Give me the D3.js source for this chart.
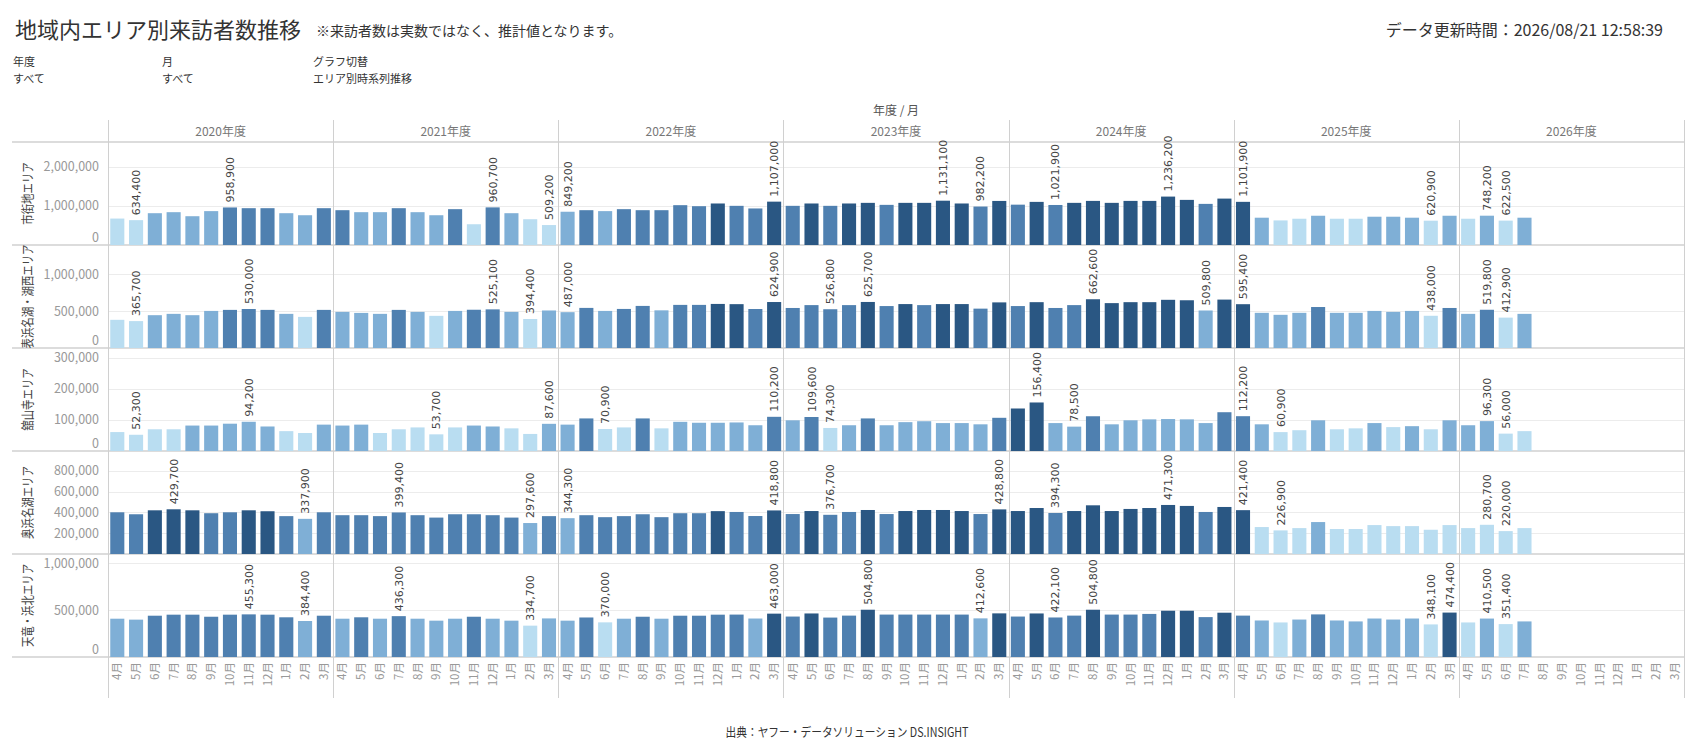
<!DOCTYPE html>
<html lang="ja">
<head>
<meta charset="utf-8">
<title>地域内エリア別来訪者数推移</title>
<script src="https://cdn.jsdelivr.net/npm/d3@7"></script>
<style>
  html, body { margin: 0; padding: 0; background: #fff; }
  svg { display: block; font-family: "Noto Sans CJK JP", "Noto Sans", sans-serif; }
</style>
</head>
<body>
<svg id="chart" width="1696" height="754"></svg>
<script>
// --- data (estimated visitor counts, fiscal year Apr-Mar) ---
const YEARS = ['2020年度', '2021年度', '2022年度', '2023年度', '2024年度', '2025年度', '2026年度'];
const MONTHS = ['4月', '5月', '6月', '7月', '8月', '9月', '10月', '11月', '12月', '1月', '2月', '3月'];
const AREAS = ['市街地エリア', '表浜名湖・湖西エリア', '舘山寺エリア', '奥浜名湖エリア', '天竜・浜北エリア'];

const shigaichi = [
  675000, 634400, 812000, 838000, 735000, 865000, 958900, 940000, 940000, 812000, 760000, 940000,
  889000, 838000, 838000, 940000, 838000, 760000, 915000, 530000, 960700, 812000, 658000, 509200,
  849200, 889000, 865000, 915000, 889000, 889000, 1017000, 991000, 1060000, 1000000, 933000, 1107000,
  1000000, 1060000, 1000000, 1060000, 1076000, 1025000, 1076000, 1076000, 1131100, 1060000, 982200, 1125000,
  1030000, 1101000, 1021900, 1076000, 1126000, 1076000, 1126000, 1126000, 1236200, 1152000, 1050000, 1185000,
  1101900, 697000, 628000, 671000, 747000, 671000, 671000, 722000, 722000, 697000, 620900, 747000,
  671000, 748200, 622500, 697000, null, null, null, null, null, null, null, null
];
const omotehamanako = [
  383000, 365700, 446000, 464000, 446000, 504000, 518000, 530000, 518000, 464000, 423000, 518000,
  491000, 477000, 464000, 518000, 491000, 437000, 504000, 520000, 525100, 491000, 394400, 510000,
  487000, 545000, 504000, 531000, 572000, 512000, 586000, 586000, 599000, 596000, 530000, 624900,
  544000, 583000, 526800, 583000, 625700, 570000, 597000, 583000, 597000, 597000, 535000, 620000,
  570000, 623000, 544000, 583000, 662600, 610000, 623000, 623000, 655000, 649000, 509800, 658000,
  595400, 478000, 451000, 478000, 557000, 478000, 478000, 504000, 491000, 504000, 438000, 544000,
  464000, 519800, 412900, 464000, null, null, null, null, null, null, null, null
];
const kanzanji = [
  61000, 52300, 70000, 70000, 82000, 82000, 88000, 94200, 79000, 64000, 58000, 85000,
  82000, 85000, 58000, 70000, 76000, 53700, 76000, 82000, 79000, 73000, 55000, 87600,
  85000, 105000, 70900, 76000, 105000, 73000, 94000, 91000, 91000, 92000, 83000, 110200,
  99000, 109600, 74300, 83000, 105000, 83000, 93000, 96000, 90000, 90000, 86000, 107000,
  137000, 156400, 90000, 78500, 112000, 86000, 99000, 102000, 103000, 102000, 90000, 125000,
  112200, 86000, 60900, 67000, 99000, 70000, 73000, 90000, 77000, 80000, 70000, 99000,
  83000, 96300, 56000, 64000, null, null, null, null, null, null, null, null
];
const okuhamanako = [
  401000, 382000, 420000, 429700, 420000, 392000, 401000, 420000, 411000, 364000, 337900, 401000,
  373000, 373000, 364000, 399400, 373000, 350000, 382000, 382000, 373000, 350000, 297600, 364000,
  344300, 373000, 354000, 364000, 382000, 354000, 392000, 392000, 412000, 404000, 365000, 418800,
  384000, 413000, 376700, 404000, 423000, 384000, 413000, 423000, 423000, 413000, 384000, 428800,
  413000, 442000, 394300, 413000, 468000, 413000, 433000, 442000, 471300, 462000, 404000, 452000,
  421400, 259000, 226900, 249000, 307000, 240000, 240000, 278000, 268000, 268000, 233000, 278000,
  249000, 280700, 220000, 249000, null, null, null, null, null, null, null, null
];
const tenryu = [
  409000, 399000, 441000, 452000, 452000, 430000, 452000, 455300, 452000, 424000, 384400, 441000,
  409000, 424000, 409000, 436300, 409000, 388000, 409000, 430000, 409000, 388000, 334700, 412000,
  388000, 422000, 370000, 409000, 430000, 409000, 441000, 441000, 452000, 453000, 411000, 463000,
  432000, 465000, 421000, 442000, 504800, 453000, 453000, 453000, 453000, 453000, 412600, 466000,
  432000, 465000, 422100, 442000, 504800, 453000, 453000, 460000, 494000, 494000, 426000, 473000,
  442000, 390000, 369000, 400000, 455000, 390000, 380000, 411000, 400000, 411000, 348100, 474400,
  369000, 410500, 351400, 380000, null, null, null, null, null, null, null, null
];
const SERIES = [shigaichi, omotehamanako, kanzanji, okuhamanako, tenryu];

// axis ranges / ticks per row
const AXIS_MAX = [2630000, 1400000, 332000, 990000, 1100000];
const AXIS_TICKS = [
  [0, 1000000, 2000000],
  [0, 500000, 1000000],
  [0, 100000, 200000, 300000],
  [200000, 400000, 600000, 800000],
  [0, 500000, 1000000]
];

// stepped blue palette (4 steps)
const COLORS = ['#b9ddf1', '#7fafd6', '#4f80b0', '#2a5783'];

const svg = d3.select('#chart');

const paneLeft = 108, paneRight = 1684;
const headerTop = 120, headerBottom = 142;
const rowH = 103;
const rowsBottom = headerBottom + rowH * AREAS.length;
const axisBottom = 698;

const fmt = d3.format(',');

// --- titles ---
svg.append('text')
  .attr('x', 15).attr('y', 38)
  .attr('font-size', 22).attr('fill', '#333')
  .text('地域内エリア別来訪者数推移');
svg.append('text')
  .attr('x', 316).attr('y', 36)
  .attr('font-size', 14).attr('fill', '#333')
  .text('※来訪者数は実数ではなく、推計値となります。');
svg.append('text')
  .attr('x', 1663).attr('y', 36)
  .attr('text-anchor', 'end')
  .attr('font-size', 16).attr('fill', '#333')
  .text('データ更新時間：2026/08/21 12:58:39');

// filter captions
const filters = [
  { x: 13, label: '年度', value: 'すべて' },
  { x: 162, label: '月', value: 'すべて' },
  { x: 313, label: 'グラフ切替', value: 'エリア別時系列推移' }
];
filters.forEach(function (f) {
  svg.append('text').attr('x', f.x).attr('y', 66)
    .attr('font-size', 11).attr('fill', '#333').text(f.label);
  svg.append('text').attr('x', f.x).attr('y', 83)
    .attr('font-size', 11).attr('fill', '#333').text(f.value);
});

svg.append('text')
  .attr('x', (paneLeft + paneRight) / 2).attr('y', 115)
  .attr('text-anchor', 'middle')
  .attr('font-size', 12).attr('fill', '#555')
  .text('年度 / 月');

// --- scales ---
const xYear = d3.scaleBand().domain(YEARS).range([paneLeft, paneRight]);
const xMonth = d3.scaleBand().domain(MONTHS).range([0, xYear.bandwidth()])
  .paddingInner(0.25).paddingOuter(0.12);

function barX(i) {
  return xYear(YEARS[Math.floor(i / 12)]) + xMonth(MONTHS[i % 12]);
}

// year header labels
svg.append('g').selectAll('text')
  .data(YEARS)
  .join('text')
  .attr('x', function (d) { return xYear(d) + xYear.bandwidth() / 2; })
  .attr('y', 136)
  .attr('text-anchor', 'middle')
  .attr('font-size', 12).attr('fill', '#777')
  .text(function (d) { return d; });

// row separators (drawn under the marks)
svg.append('g').selectAll('line')
  .data(d3.range(AREAS.length + 1))
  .join('line')
  .attr('x1', 12).attr('x2', paneRight)
  .attr('y1', function (d) { return headerBottom + d * rowH; })
  .attr('y2', function (d) { return headerBottom + d * rowH; })
  .attr('stroke', '#dcdcdc').attr('stroke-width', 2);

// --- rows ---
AREAS.forEach(function (area, r) {
  const values = SERIES[r];
  const top = headerBottom + r * rowH;
  const bottom = top + rowH;
  const y = d3.scaleLinear().domain([0, AXIS_MAX[r]]).range([bottom, top]);
  const color = d3.scaleQuantize().domain(d3.extent(values)).range(COLORS);

  const g = svg.append('g').attr('class', 'row');

  // gridlines
  g.selectAll('line.grid')
    .data(AXIS_TICKS[r].filter(function (t) { return t > 0; }))
    .join('line')
    .attr('class', 'grid')
    .attr('x1', paneLeft).attr('x2', paneRight)
    .attr('y1', function (d) { return Math.round(y(d)) + 0.5; })
    .attr('y2', function (d) { return Math.round(y(d)) + 0.5; })
    .attr('stroke', '#ececec');

  // y axis
  const axis = g.append('g')
    .attr('transform', 'translate(' + (paneLeft - 6) + ',0)')
    .call(d3.axisLeft(y).tickValues(AXIS_TICKS[r]).tickSize(0).tickFormat(fmt));
  axis.select('.domain').remove();
  axis.selectAll('text')
    .attr('font-family', '"Noto Sans CJK JP", sans-serif')
    .attr('font-size', 12.5).attr('fill', '#999')
    .attr('dy', function (d) { return d === 0 ? '-0.3em' : '0.32em'; });

  // row label (narrow, like the original UI font)
  g.append('text')
    .attr('transform', 'translate(32,' + (top + rowH / 2) + ') rotate(-90) scale(0.8,1)')
    .attr('text-anchor', 'middle')
    .attr('font-size', 13).attr('fill', '#444')
    .text(area);

  // bars
  const data = values.map(function (v, i) { return { v: v, i: i }; })
    .filter(function (d) { return d.v != null; });

  g.selectAll('rect')
    .data(data)
    .join('rect')
    .attr('x', function (d) { return barX(d.i); })
    .attr('width', xMonth.bandwidth())
    .attr('y', function (d) { return y(d.v); })
    .attr('height', function (d) { return bottom - y(d.v); })
    .attr('fill', function (d) { return color(d.v); });

  // min / max labels per fiscal year
  const labelled = [];
  YEARS.forEach(function (yr, k) {
    const slice = values.slice(k * 12, k * 12 + 12);
    const lo = d3.minIndex(slice), hi = d3.maxIndex(slice);
    [lo, hi].forEach(function (idx) {
      if (idx >= 0 && labelled.indexOf(k * 12 + idx) < 0) labelled.push(k * 12 + idx);
    });
  });

  g.selectAll('text.val')
    .data(labelled)
    .join('text')
    .attr('class', 'val')
    .attr('transform', function (i) {
      const cx = barX(i) + xMonth.bandwidth() / 2 + 4;
      return 'translate(' + cx + ',' + (y(values[i]) - 5) + ') rotate(-90)';
    })
    .attr('font-family', '"DejaVu Sans", sans-serif')
    .attr('font-size', 11).attr('fill', '#444')
    .text(function (i) { return fmt(values[i]); });
});

// year separators
svg.append('g').selectAll('line')
  .data(YEARS.concat(['end']))
  .join('line')
  .attr('x1', function (d, k) { return Math.round(paneLeft + k * xYear.bandwidth()) + 0.5; })
  .attr('x2', function (d, k) { return Math.round(paneLeft + k * xYear.bandwidth()) + 0.5; })
  .attr('y1', headerTop).attr('y2', axisBottom)
  .attr('stroke', '#d0d0d0');

// month labels on x axis
const monthCells = [];
YEARS.forEach(function (yr, k) {
  MONTHS.forEach(function (m, j) { monthCells.push({ i: k * 12 + j, m: m }); });
});
svg.append('g').selectAll('text')
  .data(monthCells)
  .join('text')
  .attr('transform', function (d) {
    const cx = barX(d.i) + xMonth.bandwidth() / 2 + 4;
    return 'translate(' + cx + ',' + (rowsBottom + 5) + ') rotate(-90)';
  })
  .attr('text-anchor', 'end')
  .attr('font-size', 11.5).attr('fill', '#999')
  .text(function (d) { return d.m; });

// footer
svg.append('text')
  .attr('x', 847).attr('y', 737)
  .attr('text-anchor', 'middle')
  .attr('font-size', 12.5).attr('fill', '#333')
  .attr('textLength', 243).attr('lengthAdjust', 'spacingAndGlyphs')
  .text('出典：ヤフー・データソリューション DS.INSIGHT');
</script>
</body>
</html>
